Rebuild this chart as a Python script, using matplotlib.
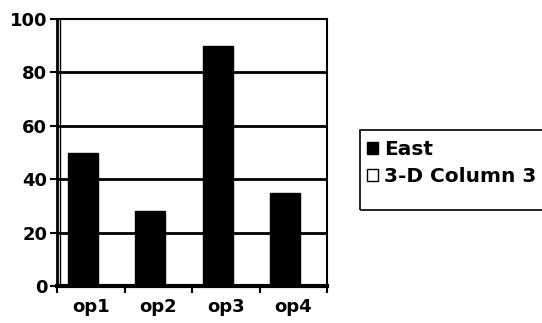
import matplotlib.pyplot as plt
from matplotlib.patches import Rectangle
import numpy as np

# Data
categories = ["op1", "op2", "op3", "op4"]
east = [50, 28, 90, 35]
column3 = [0, 0, 0, 0]
yticks = [0, 20, 40, 60, 80, 100]

plt.rcParams["font.family"] = ["DejaVu Sans"]
plt.rcParams["font.weight"] = "bold"

fig = plt.figure(figsize=(5.42, 3.23), dpi=100)
ax = fig.add_axes([57 / 542, 1 - 286 / 323, 270 / 542, 267 / 323])

x = np.arange(len(categories))
ax.bar(x - 0.12, east, width=0.44, color="black", edgecolor="black", label="East", zorder=3)
ax.bar(x + 0.32, column3, width=0.44, color="white", edgecolor="black", linewidth=1,
       label="3-D Column 3", zorder=2)

# grid and frame
ax.set_ylim(0, 100)
ax.set_xlim(-0.5, 3.5)
ax.set_yticks(yticks)
for v in yticks[1:-1]:
    ax.axhline(v, color="black", linewidth=2, zorder=1)
for s in ax.spines.values():
    s.set_linewidth(1.5)
ax.spines["bottom"].set_linewidth(3)
ax.spines["left"].set_linewidth(2)
ax.axvline(-0.46, color="black", linewidth=1, zorder=1)

ax.set_xticks(x)
ax.set_xticklabels(categories, fontsize=13, fontweight="bold")
ax.set_xticks(np.arange(-0.5, 4, 1), minor=True)
ax.tick_params(axis="x", which="major", length=0, pad=9)
ax.tick_params(axis="x", which="minor", length=5, width=1.5, direction="out")
ax.tick_params(axis="y", length=5, width=1.5, direction="out", labelsize=13, pad=2)
for lbl in ax.get_yticklabels():
    lbl.set_fontweight("bold")

# legend; its box runs off the right edge like the original
fig.legend(loc="upper left", bbox_to_anchor=(367 / 542, 1 - 140 / 323),
           frameon=False, fontsize=14.5,
           handlelength=0.55, handleheight=0.55, handletextpad=0.3,
           borderpad=0, labelspacing=0.4, borderaxespad=0)
fig.patches.append(Rectangle((360 / 542, 1 - 210 / 323), 200 / 542, 80 / 323,
                             transform=fig.transFigure, fill=False,
                             edgecolor="black", linewidth=1.2))

fig.savefig("out.png", dpi=100)
